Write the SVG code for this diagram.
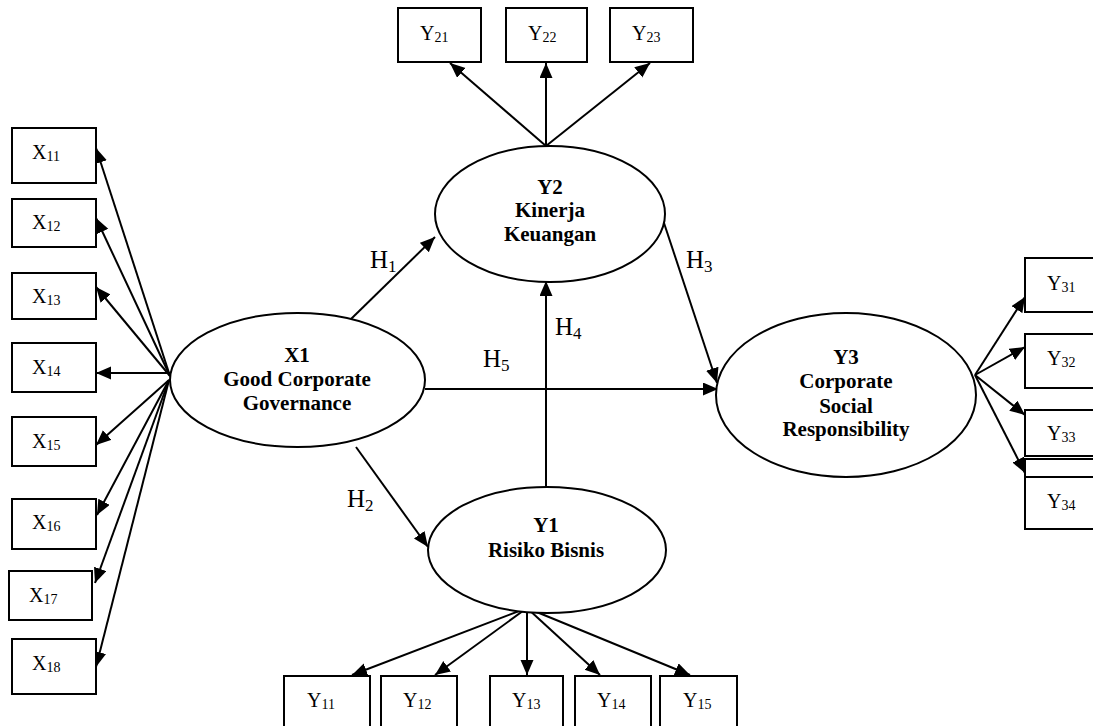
<svg xmlns="http://www.w3.org/2000/svg" width="1093" height="726" viewBox="0 0 1093 726">
<style>
  .box{fill:#fff;stroke:#000;stroke-width:2}
  .ell{fill:#fff;stroke:#000;stroke-width:2}
  .lbl{font-family:"Liberation Serif","Times New Roman",serif;font-size:20px;fill:#000}
  .sub{font-size:14px}
  .hl{font-family:"Liberation Serif","Times New Roman",serif;font-size:25px;fill:#000}
  .hsub{font-size:17px}
  .nm{font-family:"Liberation Serif","Times New Roman",serif;font-size:21px;font-weight:bold;fill:#000;text-anchor:middle}
  .con line{stroke:#000;stroke-width:2;fill:none}
</style>
<defs>
  <marker id="ah" markerUnits="userSpaceOnUse" markerWidth="16" markerHeight="14" refX="15" refY="6.5" orient="auto">
    <path d="M0,0 L15,6.5 L0,13 z" fill="#000"/>
  </marker>
</defs>
<rect width="1093" height="726" fill="#fff"/>

<g id="connectors" class="con">
  <line x1="170" y1="376" x2="96" y2="148" marker-end="url(#ah)"/>
  <line x1="170" y1="376" x2="96" y2="218" marker-end="url(#ah)"/>
  <line x1="170" y1="376" x2="96" y2="287" marker-end="url(#ah)"/>
  <line x1="170" y1="373" x2="96" y2="373" marker-end="url(#ah)"/>
  <line x1="169" y1="380" x2="96" y2="445" marker-end="url(#ah)"/>
  <line x1="169" y1="380" x2="97" y2="515" marker-end="url(#ah)"/>
  <line x1="169" y1="380" x2="95" y2="583" marker-end="url(#ah)"/>
  <line x1="169" y1="380" x2="96" y2="667" marker-end="url(#ah)"/>
  <line x1="546" y1="146" x2="450" y2="63" marker-end="url(#ah)"/>
  <line x1="546" y1="146" x2="546" y2="63" marker-end="url(#ah)"/>
  <line x1="546" y1="146" x2="650" y2="63" marker-end="url(#ah)"/>
  <line x1="351" y1="319" x2="435" y2="237" marker-end="url(#ah)"/>
  <line x1="356" y1="447" x2="428" y2="547" marker-end="url(#ah)"/>
  <line x1="664" y1="223" x2="717" y2="383" marker-end="url(#ah)"/>
  <line x1="546" y1="499" x2="546" y2="281" marker-end="url(#ah)"/>
  <line x1="425" y1="389" x2="718" y2="389" marker-end="url(#ah)"/>
  <line x1="527" y1="608" x2="352" y2="675" marker-end="url(#ah)"/>
  <line x1="527" y1="608" x2="435" y2="675" marker-end="url(#ah)"/>
  <line x1="527" y1="608" x2="527" y2="675" marker-end="url(#ah)"/>
  <line x1="527" y1="608" x2="600" y2="675" marker-end="url(#ah)"/>
  <line x1="527" y1="608" x2="690" y2="675" marker-end="url(#ah)"/>
  <line x1="975" y1="375" x2="1025" y2="297" marker-end="url(#ah)"/>
  <line x1="975" y1="375" x2="1025" y2="347" marker-end="url(#ah)"/>
  <line x1="975" y1="375" x2="1025" y2="415" marker-end="url(#ah)"/>
  <line x1="975" y1="375" x2="1025" y2="473" marker-end="url(#ah)"/>
</g>

<g id="hlabels">
  <text class="hl" x="370" y="268">H<tspan class="hsub" dy="4">1</tspan></text>
  <text class="hl" x="347" y="507">H<tspan class="hsub" dy="4">2</tspan></text>
  <text class="hl" x="686" y="268">H<tspan class="hsub" dy="4">3</tspan></text>
  <text class="hl" x="555" y="335">H<tspan class="hsub" dy="4">4</tspan></text>
  <text class="hl" x="483" y="367">H<tspan class="hsub" dy="4">5</tspan></text>
</g>

<g id="X1">
  <ellipse class="ell" cx="297.5" cy="380" rx="127.5" ry="67"/>
  <text class="nm" x="297" y="362">X1</text>
  <text class="nm" x="297" y="386">Good Corporate</text>
  <text class="nm" x="297" y="410">Governance</text>
</g>
<g id="Y2">
  <ellipse class="ell" cx="550" cy="214" rx="115" ry="68"/>
  <text class="nm" x="550" y="194">Y2</text>
  <text class="nm" x="550" y="217">Kinerja</text>
  <text class="nm" x="550" y="241">Keuangan</text>
</g>
<g id="Y1">
  <ellipse class="ell" cx="547" cy="550" rx="119" ry="63"/>
  <text class="nm" x="546" y="532">Y1</text>
  <text class="nm" x="546" y="557">Risiko Bisnis</text>
</g>
<g id="Y3">
  <ellipse class="ell" cx="846" cy="395" rx="130" ry="82"/>
  <text class="nm" x="846" y="364">Y3</text>
  <text class="nm" x="846" y="388">Corporate</text>
  <text class="nm" x="846" y="413">Social</text>
  <text class="nm" x="846" y="436">Responsibility</text>
</g>

<g id="X11"><rect class="box" x="12" y="128" width="84" height="55"/><text class="lbl" x="32" y="159">X<tspan class="sub" dy="2">11</tspan></text></g>
<g id="X12"><rect class="box" x="12" y="199" width="84" height="48"/><text class="lbl" x="32" y="229">X<tspan class="sub" dy="2">12</tspan></text></g>
<g id="X13"><rect class="box" x="12" y="273" width="84" height="46"/><text class="lbl" x="32" y="303">X<tspan class="sub" dy="2">13</tspan></text></g>
<g id="X14"><rect class="box" x="12" y="343" width="84" height="49"/><text class="lbl" x="32" y="374">X<tspan class="sub" dy="2">14</tspan></text></g>
<g id="X15"><rect class="box" x="12" y="417" width="84" height="49"/><text class="lbl" x="32" y="448">X<tspan class="sub" dy="2">15</tspan></text></g>
<g id="X16"><rect class="box" x="12" y="499" width="84" height="50"/><text class="lbl" x="32" y="529">X<tspan class="sub" dy="2">16</tspan></text></g>
<g id="X17"><rect class="box" x="9" y="571" width="83" height="49"/><text class="lbl" x="29" y="602">X<tspan class="sub" dy="2">17</tspan></text></g>
<g id="X18"><rect class="box" x="12" y="639" width="84" height="55"/><text class="lbl" x="32" y="670">X<tspan class="sub" dy="2">18</tspan></text></g>

<g id="Y21"><rect class="box" x="398" y="8" width="83" height="54"/><text class="lbl" x="420" y="40">Y<tspan class="sub" dy="2">21</tspan></text></g>
<g id="Y22"><rect class="box" x="506" y="8" width="81" height="54"/><text class="lbl" x="528" y="40">Y<tspan class="sub" dy="2">22</tspan></text></g>
<g id="Y23"><rect class="box" x="610" y="8" width="83" height="54"/><text class="lbl" x="632" y="40">Y<tspan class="sub" dy="2">23</tspan></text></g>

<g id="Y11"><rect class="box" x="284" y="676" width="86" height="60"/><text class="lbl" x="307" y="707">Y<tspan class="sub" dy="2">11</tspan></text></g>
<g id="Y12"><rect class="box" x="381" y="676" width="76" height="60"/><text class="lbl" x="403" y="707">Y<tspan class="sub" dy="2">12</tspan></text></g>
<g id="Y13"><rect class="box" x="490" y="676" width="73" height="60"/><text class="lbl" x="512" y="707">Y<tspan class="sub" dy="2">13</tspan></text></g>
<g id="Y14"><rect class="box" x="575" y="676" width="76" height="60"/><text class="lbl" x="597" y="707">Y<tspan class="sub" dy="2">14</tspan></text></g>
<g id="Y15"><rect class="box" x="660" y="676" width="77" height="60"/><text class="lbl" x="683" y="707">Y<tspan class="sub" dy="2">15</tspan></text></g>

<g id="Y31"><rect class="box" x="1025" y="258" width="80" height="54"/><text class="lbl" x="1047" y="290">Y<tspan class="sub" dy="2">31</tspan></text></g>
<g id="Y32"><rect class="box" x="1025" y="334" width="80" height="54"/><text class="lbl" x="1047" y="365">Y<tspan class="sub" dy="2">32</tspan></text></g>
<g id="Y33"><rect class="box" x="1025" y="410" width="80" height="46"/><text class="lbl" x="1047" y="440">Y<tspan class="sub" dy="2">33</tspan></text></g>
<g id="Y34"><rect class="box" x="1025" y="459" width="80" height="18"/><rect class="box" x="1025" y="477" width="80" height="52"/><text class="lbl" x="1047" y="508">Y<tspan class="sub" dy="2">34</tspan></text></g>
</svg>
